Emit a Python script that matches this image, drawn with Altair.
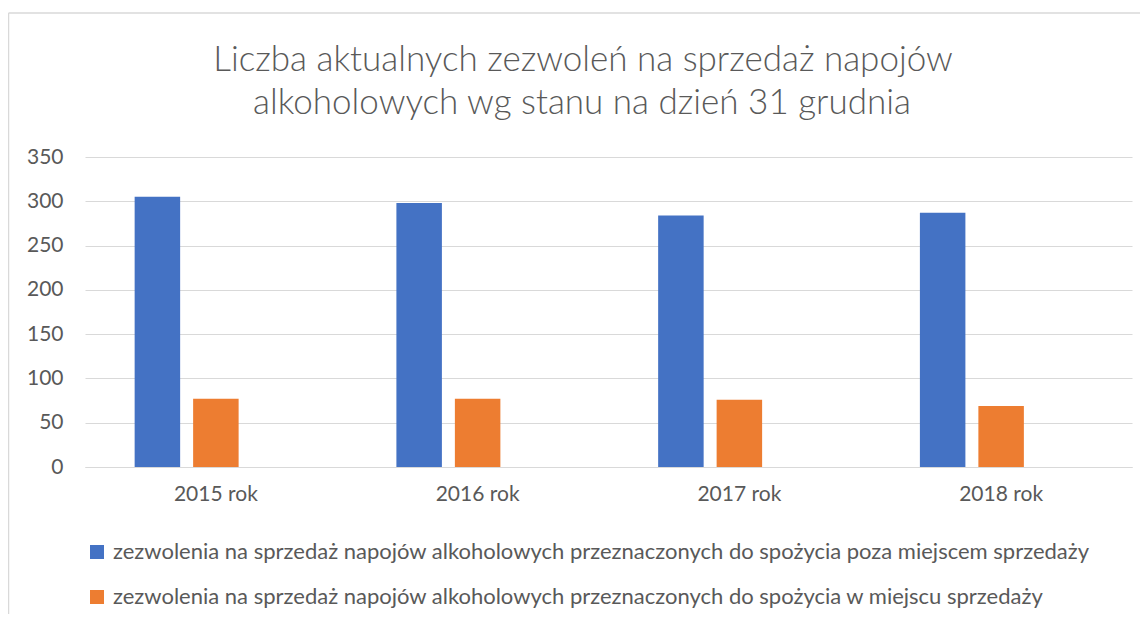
import altair as alt
import pandas as pd

categories = ["2015 rok", "2016 rok", "2017 rok", "2018 rok"]
series_names = [
    "zezwolenia na sprzedaż napojów alkoholowych przeznaczonych do spożycia poza miejscem sprzedaży",
    "zezwolenia na sprzedaż napojów alkoholowych przeznaczonych do spożycia w miejscu sprzedaży",
]
poza_miejscem = [305, 298, 284, 287]
w_miejscu = [77, 77, 76, 69]
y_ticks = [0, 50, 100, 150, 200, 250, 300, 350]
title_lines = [
    "Liczba aktualnych zezwoleń na sprzedaż napojów",
    "alkoholowych wg stanu na dzień 31 grudnia",
]
colors = ["#4472C4", "#ED7D31"]

rows = []
for i, c in enumerate(categories):
    rows.append({"rok": c, "seria": series_names[0], "wartosc": poza_miejscem[i]})
    rows.append({"rok": c, "seria": series_names[1], "wartosc": w_miejscu[i]})
df = pd.DataFrame(rows)

FONT = "Lato"
GREY = "#595959"

bars = alt.Chart(df).mark_bar().encode(
    x=alt.X(
        "rok:N",
        sort=categories,
        scale=alt.Scale(paddingInner=0, paddingOuter=0),
        axis=alt.Axis(
            title=None, labelAngle=0, ticks=False, labelPadding=16,
            labelFont=FONT, labelFontSize=21, labelColor=GREY,
            domainColor="#d9d9d9", domainWidth=1, grid=False,
        ),
    ),
    xOffset=alt.XOffset(
        "seria:N",
        scale=alt.Scale(domain=series_names + ["_"], paddingInner=0.222, paddingOuter=0.849),
    ),
    y=alt.Y(
        "wartosc:Q",
        scale=alt.Scale(domain=[0, 350], nice=False),
        axis=alt.Axis(
            title=None, values=y_ticks, ticks=False, domain=False, labelPadding=22,
            labelFont=FONT, labelFontSize=21, labelColor=GREY,
            gridColor="#d9d9d9", gridWidth=1,
        ),
    ),
    color=alt.Color(
        "seria:N",
        scale=alt.Scale(domain=series_names, range=colors),
        legend=alt.Legend(
            title=None, orient="none", legendX=1, legendY=384, direction="vertical",
            symbolType="square", symbolSize=196, symbolStrokeWidth=0,
            labelFont=FONT, labelFontSize=22, labelColor=GREY, labelOffset=5,
            rowPadding=23, labelLimit=1100, padding=0,
        ),
    ),
)

one = alt.Data(values=[{"k": 1}])
border = alt.Chart(one).mark_rule(color="#d9d9d9", strokeWidth=1.5)
top_line = border.encode(x=alt.value(-76.5), x2=alt.value(1100), y=alt.value(-144))
left_line = border.encode(x=alt.value(-76.5), y=alt.value(-144), y2=alt.value(460))

title_df = pd.DataFrame({"linia": title_lines, "nr": [0, 1]})
title_style = dict(font=FONT, fontSize=35, fontWeight=300, color=GREY,
                   align="center", baseline="middle")
title1 = alt.Chart(title_df).transform_filter("datum.nr == 0").mark_text(**title_style).encode(
    text="linia:N", x=alt.value(498), y=alt.value(-97)
)
title2 = alt.Chart(title_df).transform_filter("datum.nr == 1").mark_text(**title_style).encode(
    text="linia:N", x=alt.value(497), y=alt.value(-54)
)

chart = alt.layer(top_line, left_line, title1, title2, bars).properties(
    width=1047,
    height=310,
    padding={"left": 77, "top": 149, "right": 8, "bottom": 147},
    autosize=alt.AutoSizeParams(type="none"),
).configure_view(stroke=None)

chart.save("out.html", embed_options={"renderer": "svg", "actions": False})
